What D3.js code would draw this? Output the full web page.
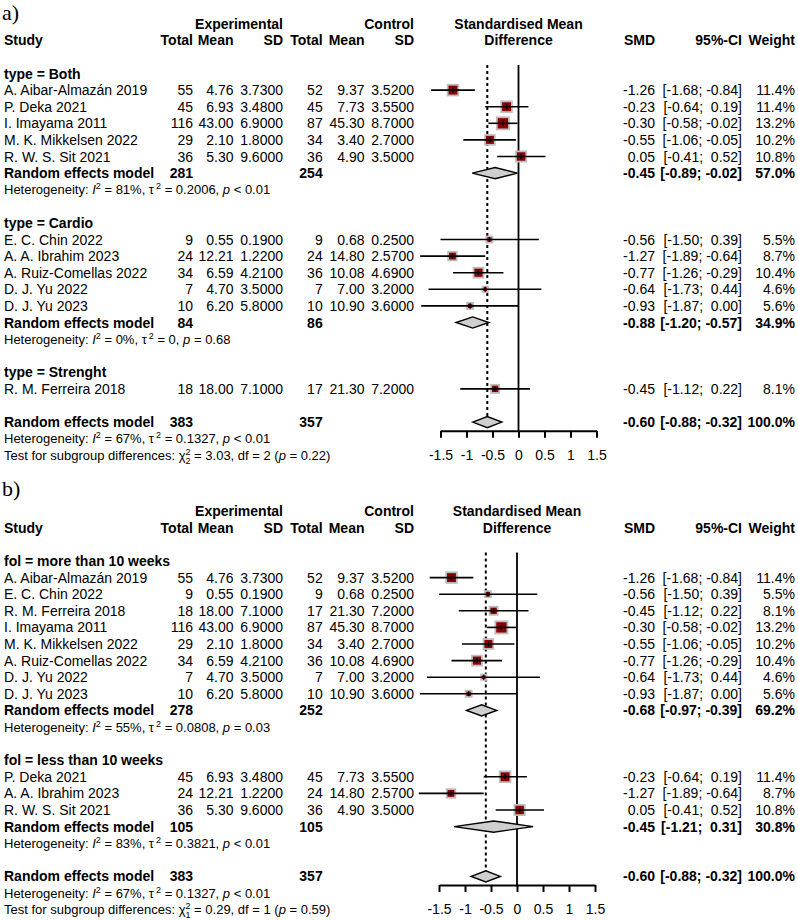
<!DOCTYPE html>
<html><head><meta charset="utf-8">
<script src="https://cdn.jsdelivr.net/npm/d3@7"></script>
<style>
body{margin:0;background:#fff}
text{font-family:"Liberation Sans",Arial,Helvetica,sans-serif;fill:#000;white-space:pre}
</style>
</head><body>
<svg id="c" width="798" height="920"></svg>
<script>
// ---------- DATA ----------
const studies = ["A. Aibar-Almazán 2019","P. Deka 2021","I. Imayama 2011","M. K. Mikkelsen 2022","R. W. S. Sit 2021",
  "E. C. Chin 2022","A. A. Ibrahim 2023","A. Ruiz-Comellas 2022","D. J. Yu 2022","D. J. Yu 2023","R. M. Ferreira 2018"];
const expTotal = [55,45,116,29,36,9,24,34,7,10,18];
const expMean  = [4.76,6.93,43.00,2.10,5.30,0.55,12.21,6.59,4.70,6.20,18.00];
const expSD    = [3.73,3.48,6.90,1.80,9.60,0.19,1.22,4.21,3.50,5.80,7.10];
const ctlTotal = [52,45,87,34,36,9,24,36,7,10,17];
const ctlMean  = [9.37,7.73,45.30,3.40,4.90,0.68,14.80,10.08,7.00,10.90,21.30];
const ctlSD    = [3.52,3.55,8.70,2.70,3.50,0.25,2.57,4.69,3.20,3.60,7.20];
const smd      = [-1.26,-0.23,-0.30,-0.55,0.05,-0.56,-1.27,-0.77,-0.64,-0.93,-0.45];
const ciLow    = [-1.68,-0.64,-0.58,-1.06,-0.41,-1.50,-1.89,-1.26,-1.73,-1.87,-1.12];
const ciHigh   = [-0.84,0.19,-0.02,-0.05,0.52,0.39,-0.64,-0.29,0.44,0.00,0.22];
const weight   = [11.4,11.4,13.2,10.2,10.8,5.5,8.7,10.4,4.6,5.6,8.1];

// panel a subgroups (type)
const groupLabelsA = ["type = Both","type = Cardio","type = Strenght"];
const groupMembersA = [
  ["A. Aibar-Almazán 2019","P. Deka 2021","I. Imayama 2011","M. K. Mikkelsen 2022","R. W. S. Sit 2021"],
  ["E. C. Chin 2022","A. A. Ibrahim 2023","A. Ruiz-Comellas 2022","D. J. Yu 2022","D. J. Yu 2023"],
  ["R. M. Ferreira 2018"]];
const groupExpNA = [281,84,null], groupCtlNA = [254,86,null];
const groupSmdA = [-0.45,-0.88,null], groupLoA = [-0.89,-1.20,null], groupHiA = [-0.02,-0.57,null];
const groupWA = [57.0,34.9,null];
const groupI2A = ["81%","0%",null], groupTauA = ["0.2006","0",null], groupPA = ["< 0.01","= 0.68",null];

// panel b subgroups (fol)
const groupLabelsB = ["fol = more than 10 weeks","fol = less than 10 weeks"];
const groupMembersB = [
  ["A. Aibar-Almazán 2019","E. C. Chin 2022","R. M. Ferreira 2018","I. Imayama 2011","M. K. Mikkelsen 2022",
   "A. Ruiz-Comellas 2022","D. J. Yu 2022","D. J. Yu 2023"],
  ["P. Deka 2021","A. A. Ibrahim 2023","R. W. S. Sit 2021"]];
const groupExpNB = [278,105], groupCtlNB = [252,105];
const groupSmdB = [-0.68,-0.45], groupLoB = [-0.97,-1.21], groupHiB = [-0.39,0.31];
const groupWB = [69.2,30.8];
const groupI2B = ["55%","83%"], groupTauB = ["0.0808","0.3821"], groupPB = ["= 0.03","< 0.01"];

// overall
const overallExpN = 383, overallCtlN = 357;
const overallSmd = -0.60, overallLo = -0.88, overallHi = -0.32, overallW = 100.0;
const overallI2 = "67%", overallTau = "0.1327", overallP = "< 0.01";
const testChi = ["3.03","0.29"], testDf = ["2","1"], testP = ["0.22","0.59"];
const panelLabels = ["a)","b)"];
const tickValues = [-1.5,-1,-0.5,0,0.5,1,1.5];

// ---------- LAYOUT ----------
const svg = d3.select("#c");
const FS = 14, FSs = 13;
const col = {study:4, eTot:193, eMean:233.5, eSD:283, cTot:322.7, cMean:364.5, cSD:414, smd:655, ci:742, w:795};
const RED = "#8b0000", SQB = "#bebebe", DIA = "#cfcfcf";

function pad(v){ return v < 0 ? "-" + Math.abs(v).toFixed(2) : " " + Math.abs(v).toFixed(2); }
function ciStr(lo,hi){ return "[" + pad(lo) + "; " + pad(hi) + "]"; }

function txt(g, x, y, s, opt={}){
  return g.append("text").attr("x",x).attr("y",y + (opt.fs||FS)*0.36)
    .attr("xml:space","preserve")
    .attr("text-anchor", opt.anchor||"start")
    .attr("font-size", opt.fs||FS)
    .attr("font-weight", opt.bold?"bold":"normal")
    .text(s);
}

function hetText(g, y, I2, tau, p){
  const t = g.append("text").attr("x",col.study).attr("y",y+FSs*0.36).attr("font-size",FSs).attr("xml:space","preserve");
  t.append("tspan").text("Heterogeneity: ");
  t.append("tspan").attr("font-style","italic").text("I");
  t.append("tspan").attr("font-size",9).attr("dy",-5).text("2");
  t.append("tspan").attr("dy",5).text(" = " + I2 + ", τ");
  t.append("tspan").attr("font-size",9).attr("dy",-5).attr("dx",2).text("2");
  t.append("tspan").attr("dy",5).text(" = " + tau + ", ");
  t.append("tspan").attr("font-style","italic").text("p");
  t.append("tspan").text(" " + p);
}
function testText(g, y, chi, df, p){
  const t = g.append("text").attr("x",col.study).attr("y",y+FSs*0.36).attr("font-size",FSs).attr("xml:space","preserve");
  t.append("tspan").text("Test for subgroup differences: χ");
  t.append("tspan").attr("font-size",9).attr("dy",-5).text("2");
  t.append("tspan").attr("font-size",9).attr("dy",9).attr("dx",-5).text(df);
  t.append("tspan").attr("dy",-4).text(" = " + chi + ", df = " + df + " (");
  t.append("tspan").attr("font-style","italic").text("p");
  t.append("tspan").text(" = " + p + ")");
}

function drawPanel(pi, top, labelY, xr, labels, members, eN, cN, gS, gL, gH, gW, gI2, gTau, gP){
  const g = svg.append("g");
  const x = d3.scaleLinear().domain([-1.5,1.5]).range(xr);
  // build rows
  const rows = [];
  labels.forEach((lab,k)=>{
    rows.push({type:"group", label:lab});
    members[k].forEach(n=>rows.push({type:"study", i:studies.indexOf(n)}));
    if (gS[k] !== null){
      rows.push({type:"re", k});
      rows.push({type:"het", k});
    }
    rows.push({type:"blank"});
  });
  rows.push({type:"overall"});
  rows.push({type:"ohet"});
  rows.push({type:"test"});
  const y = d3.scaleLinear().domain([0,1]).range([top, top+16.6]);
  const overallRow = rows.findIndex(r=>r.type==="overall");
  const axisY = y(overallRow) + 8.6;

  // panel label
  g.append("text").attr("x",2).attr("y",labelY).attr("font-size",22)
    .style("font-family","'Liberation Serif','Times New Roman',serif").text(panelLabels[pi]);

  // headers
  txt(g, col.eSD, y(-3), "Experimental", {anchor:"end", bold:true});
  txt(g, col.cSD, y(-3), "Control", {anchor:"end", bold:true});
  txt(g, x(0), y(-3), "Standardised Mean", {anchor:"middle", bold:true});
  txt(g, col.study, y(-2), "Study", {bold:true});
  [["eTot","Total"],["eMean","Mean"],["eSD","SD"],["cTot","Total"],["cMean","Mean"],["cSD","SD"],["smd","SMD"],["ci","95%-CI"],["w","Weight"]]
    .forEach(([c,s])=>txt(g, col[c], y(-2), s, {anchor:"end", bold:true}));
  txt(g, x(0), y(-2), "Difference", {anchor:"middle", bold:true});

  // reference lines
  const lineTop = y(0) - 8.5;
  g.append("line").attr("x1",x(overallSmd)).attr("x2",x(overallSmd)).attr("y1",lineTop).attr("y2",y(overallRow))
    .attr("stroke","#000").attr("stroke-width",2).attr("stroke-dasharray","3,3");
  g.append("line").attr("x1",x(0)).attr("x2",x(0)).attr("y1",lineTop).attr("y2",axisY)
    .attr("stroke","#000").attr("stroke-width",1.8);

  function diamond(yy, est, lo, hi){
    const h = 5.6;
    g.append("path").attr("d", `M${x(lo)},${yy}L${x(est)},${yy-h}L${x(hi)},${yy}L${x(est)},${yy+h}Z`)
      .attr("fill",DIA).attr("stroke","#000").attr("stroke-width",1.4);
  }

  rows.forEach((r, ri)=>{
    const yy = y(ri);
    if (r.type==="group"){
      txt(g, col.study, yy, r.label, {bold:true});
    } else if (r.type==="study"){
      const i = r.i;
      txt(g, col.study, yy, studies[i]);
      txt(g, col.eTot, yy, String(expTotal[i]), {anchor:"end"});
      txt(g, col.eMean, yy, expMean[i].toFixed(2), {anchor:"end"});
      txt(g, col.eSD, yy, expSD[i].toFixed(4), {anchor:"end"});
      txt(g, col.cTot, yy, String(ctlTotal[i]), {anchor:"end"});
      txt(g, col.cMean, yy, ctlMean[i].toFixed(2), {anchor:"end"});
      txt(g, col.cSD, yy, ctlSD[i].toFixed(4), {anchor:"end"});
      txt(g, col.smd, yy, smd[i].toFixed(2), {anchor:"end"});
      txt(g, col.ci, yy, ciStr(ciLow[i],ciHigh[i]), {anchor:"end"});
      txt(g, col.w, yy, weight[i].toFixed(1)+"%", {anchor:"end"});
      const sw = 1.8;
      const s = 0.78*weight[i] + sw;
      g.append("rect").attr("x",x(smd[i])-s/2).attr("y",yy-s/2).attr("width",s).attr("height",s)
        .attr("fill",RED).attr("stroke",SQB).attr("stroke-width",sw);
      g.append("line").attr("x1",x(ciLow[i])).attr("x2",x(ciHigh[i])).attr("y1",yy).attr("y2",yy)
        .attr("stroke","#000").attr("stroke-width",1.6);
      g.append("line").attr("x1",x(smd[i])).attr("x2",x(smd[i])).attr("y1",yy-2.5).attr("y2",yy+2.5)
        .attr("stroke","#000").attr("stroke-width",1.4);
    } else if (r.type==="re"){
      const k = r.k;
      txt(g, col.study, yy, "Random effects model", {bold:true});
      txt(g, col.eTot, yy, String(eN[k]), {anchor:"end", bold:true});
      txt(g, col.cTot, yy, String(cN[k]), {anchor:"end", bold:true});
      txt(g, col.smd, yy, gS[k].toFixed(2), {anchor:"end", bold:true});
      txt(g, col.ci, yy, ciStr(gL[k],gH[k]), {anchor:"end", bold:true});
      txt(g, col.w, yy, gW[k].toFixed(1)+"%", {anchor:"end", bold:true});
      diamond(yy, gS[k], gL[k], gH[k]);
    } else if (r.type==="het"){
      hetText(g, yy, gI2[r.k], gTau[r.k], gP[r.k]);
    } else if (r.type==="overall"){
      txt(g, col.study, yy, "Random effects model", {bold:true});
      txt(g, col.eTot, yy, String(overallExpN), {anchor:"end", bold:true});
      txt(g, col.cTot, yy, String(overallCtlN), {anchor:"end", bold:true});
      txt(g, col.smd, yy, overallSmd.toFixed(2), {anchor:"end", bold:true});
      txt(g, col.ci, yy, ciStr(overallLo,overallHi), {anchor:"end", bold:true});
      txt(g, col.w, yy, overallW.toFixed(1)+"%", {anchor:"end", bold:true});
      diamond(yy, overallSmd, overallLo, overallHi);
    } else if (r.type==="ohet"){
      hetText(g, yy, overallI2, overallTau, overallP);
    } else if (r.type==="test"){
      testText(g, yy, testChi[pi], testDf[pi], testP[pi]);
    }
  });

  // axis
  const ax = g.append("g").attr("transform",`translate(0,${axisY})`)
    .call(d3.axisBottom(x).tickValues(tickValues).tickFormat(d=>String(d)).tickSize(7).tickSizeOuter(0).tickPadding(12));
  ax.select(".domain").attr("stroke","#000").attr("stroke-width",2);
  ax.selectAll(".tick line").attr("stroke","#000").attr("stroke-width",2);
  ax.selectAll(".tick text").attr("font-size",FS).attr("font-family","'Liberation Sans',Arial,sans-serif").attr("fill","#000");
}

drawPanel(0, 73.5, 20, [440.5,596.5], groupLabelsA, groupMembersA, groupExpNA, groupCtlNA, groupSmdA, groupLoA, groupHiA, groupWA, groupI2A, groupTauA, groupPA);
drawPanel(1, 561, 496, [439,595], groupLabelsB, groupMembersB, groupExpNB, groupCtlNB, groupSmdB, groupLoB, groupHiB, groupWB, groupI2B, groupTauB, groupPB);
</script>
</body></html>
